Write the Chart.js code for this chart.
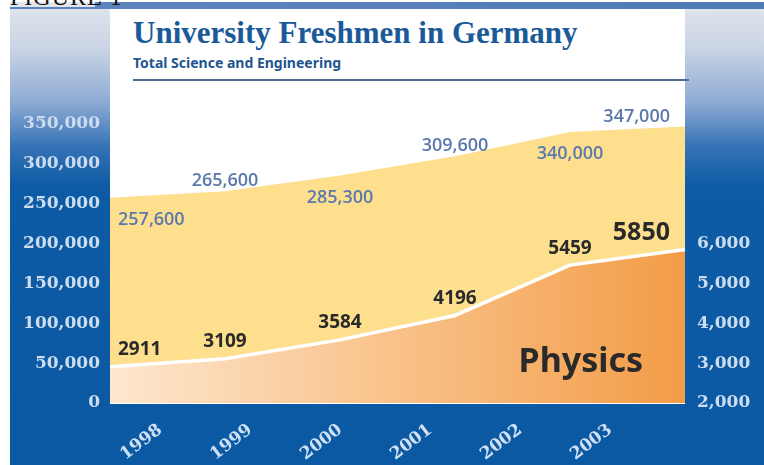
<!DOCTYPE html>
<html lang="en">
  <head>
    <meta charset="UTF-8" />
    <meta name="viewport" content="width=device-width, initial-scale=1.0" />
    <title>University Freshmen in Germany</title>
    <script src="https://cdn.jsdelivr.net/npm/chart.js"></script>
    <style>
      body {
        margin: 0;
        width: 764px;
        height: 465px;
        overflow: hidden;
        background: #fff;
        position: relative;
        font-family: "Noto Sans", sans-serif;
      }
      #frame {
        position: absolute;
        left: 10px;
        top: 2px;
        right: 0;
        bottom: 0;
        background: linear-gradient(
          to bottom,
          #e2e6ee 0px,
          #cbd5e5 45px,
          #8eabd4 100px,
          #3572b5 145px,
          #0d5ba4 185px,
          #0b59a2 100%
        );
      }
      #band {
        position: absolute;
        left: 95px;
        top: 2px;
        right: 0;
        height: 7px;
        background: linear-gradient(to right, #5d85bd, #4f7ab5);
      }
      #band2 {
        position: absolute;
        left: 10px;
        top: 7px;
        width: 90px;
        height: 2px;
        background: #5d85bd;
      }
      #panel {
        position: absolute;
        left: 110px;
        top: 9px;
        width: 575px;
        height: 395px;
        background: #fff;
      }
      #fig {
        position: absolute;
        left: 10px;
        top: -15px;
        font: 24px "Liberation Serif", serif;
        line-height: 24px;
        color: #111;
        letter-spacing: 1px;
      }
      h1 {
        position: absolute;
        margin: 0;
        left: 133px;
        top: 15px;
        font: bold 31px "Liberation Serif", serif;
        color: #1b5a99;
        white-space: nowrap;
      }
      #sub {
        position: absolute;
        left: 133px;
        top: 53px;
        font: bold 14px "Noto Sans", sans-serif;
        color: #1f5590;
        white-space: nowrap;
      }
      #rule {
        position: absolute;
        left: 133px;
        top: 79px;
        width: 556px;
        height: 2px;
        background: #4d6d93;
      }
      #speedChart {
        position: absolute;
        left: 0;
        top: 0;
      }
    </style>
  </head>
  <body>
    <div id="frame"></div>
    <div id="band"></div>
    <div id="band2"></div>
    <div id="panel"></div>
    <div id="fig">FIGURE 1</div>
    <h1>University Freshmen in Germany</h1>
    <div id="sub">Total Science and Engineering</div>
    <div id="rule"></div>
    <canvas id="speedChart" width="764" height="465"></canvas>
    <script>
      const years = [1998, 1999, 2000, 2001, 2002, 2003];
      const totalFreshmen = [257600, 265600, 285300, 309600, 340000, 347000];
      const physicsFreshmen = [2911, 3109, 3584, 4196, 5459, 5850];
      const leftTicks = [0, 50000, 100000, 150000, 200000, 250000, 300000, 350000];
      const rightTicks = [2000, 3000, 4000, 5000, 6000];

      const fmt = (v) => v.toLocaleString("en-US");
      const tickFont = { family: "'DejaVu Serif', serif", size: 17, weight: "bold" };

      // value labels + the "Physics" caption, placed from the scales
      const labelPlugin = {
        id: "valueLabels",
        afterDatasetsDraw(chart) {
          const { ctx, chartArea, scales } = chart;
          const xs = scales.x;
          ctx.save();
          ctx.textAlign = "center";
          ctx.textBaseline = "middle";

          ctx.font = "600 18px 'Open Sans', sans-serif";
          ctx.fillStyle = "#5b79ad";
          totalFreshmen.forEach((v, i) => {
            const text = fmt(v);
            const w = ctx.measureText(text).width;
            let x = xs.getPixelForValue(i);
            x = Math.min(Math.max(x, chartArea.left + w / 2 + 8), chartArea.right - w / 2 - 15);
            const y = scales.y.getPixelForValue(v) + (i % 2 === 0 ? 22 : -10);
            ctx.fillText(text, x, y);
          });

          ctx.fillStyle = "#2a2a2a";
          physicsFreshmen.forEach((v, i) => {
            const text = String(v);
            ctx.font = i === physicsFreshmen.length - 1
              ? "bold 25px 'Noto Sans', sans-serif"
              : "bold 19px 'Noto Sans', sans-serif";
            const w = ctx.measureText(text).width;
            let x = xs.getPixelForValue(i);
            x = Math.min(Math.max(x, chartArea.left + w / 2 + 8), chartArea.right - w / 2 - 15);
            const y = scales.y2.getPixelForValue(v) - 17;
            ctx.fillText(text, x, y);
          });

          ctx.font = "bold 34px 'Noto Sans', sans-serif";
          ctx.textAlign = "right";
          ctx.textBaseline = "alphabetic";
          ctx.fillText("Physics", chartArea.right - 42, chartArea.bottom - 31);
          ctx.restore();
        },
      };

      const ctx = document.getElementById("speedChart").getContext("2d");
      const speedChart = new Chart(ctx, {
        type: "line",
        data: {
          labels: years,
          datasets: [
            {
              label: "Physics",
              data: physicsFreshmen,
              xAxisID: "x",
              yAxisID: "y2",
              fill: "start",
              order: 1,
              borderColor: "#ffffff",
              borderWidth: 3.5,
              pointRadius: 0,
              tension: 0,
              backgroundColor: (c) => {
                const area = c.chart.chartArea;
                if (!area) return "#f7b46a";
                const g = c.chart.ctx.createLinearGradient(area.left, 0, area.right, 0);
                g.addColorStop(0, "#fde7cf");
                g.addColorStop(0.45, "#f9c58f");
                g.addColorStop(1, "#f39c47");
                return g;
              },
            },
            {
              label: "Total Science and Engineering",
              data: totalFreshmen,
              xAxisID: "x",
              yAxisID: "y",
              fill: "start",
              order: 2,
              backgroundColor: "#fddf8e",
              borderWidth: 0,
              pointRadius: 0,
              tension: 0,
            },
          ],
        },
        options: {
          responsive: false,
          animation: false,
          layout: { padding: { top: 124, left: 0, right: 0, bottom: 0 } },
          plugins: {
            legend: { display: false },
            tooltip: { enabled: false },
          },
          scales: {
            x: {
              type: "category",
              offset: false,
              display: false,
            },
            years: {
              type: "linear",
              position: "bottom",
              min: 1997.44,
              max: 2003.83,
              grid: { display: false, drawTicks: false },
              border: { display: false },
              afterBuildTicks: (s) => {
                s.ticks = years.map((v) => ({ value: v }));
              },
              afterFit: (s) => {
                s.height = 62;
              },
              ticks: {
                autoSkip: false,
                minRotation: 37,
                maxRotation: 37,
                padding: 17,
                color: "#cfe0f4",
                font: tickFont,
                callback: (v) => String(v),
              },
            },
            y: {
              position: "left",
              min: 0,
              max: 350000,
              grid: { display: false, drawTicks: false },
              border: { display: false },
              afterBuildTicks: (s) => {
                s.ticks = leftTicks.map((v) => ({ value: v }));
              },
              afterFit: (s) => {
                s.width = 110;
              },
              ticks: {
                padding: 10,
                color: "#cddcef",
                font: tickFont,
                callback: (v) => fmt(v),
              },
            },
            y2: {
              position: "right",
              min: 2000,
              max: 9000,
              grid: { display: false, drawTicks: false },
              border: { display: false },
              afterBuildTicks: (s) => {
                s.ticks = rightTicks.map((v) => ({ value: v }));
              },
              afterFit: (s) => {
                s.width = 79;
              },
              ticks: {
                padding: 12,
                color: "#cddcef",
                font: tickFont,
                callback: (v) => fmt(v),
              },
            },
          },
        },
        plugins: [labelPlugin],
      });
    </script>
  </body>
</html>
